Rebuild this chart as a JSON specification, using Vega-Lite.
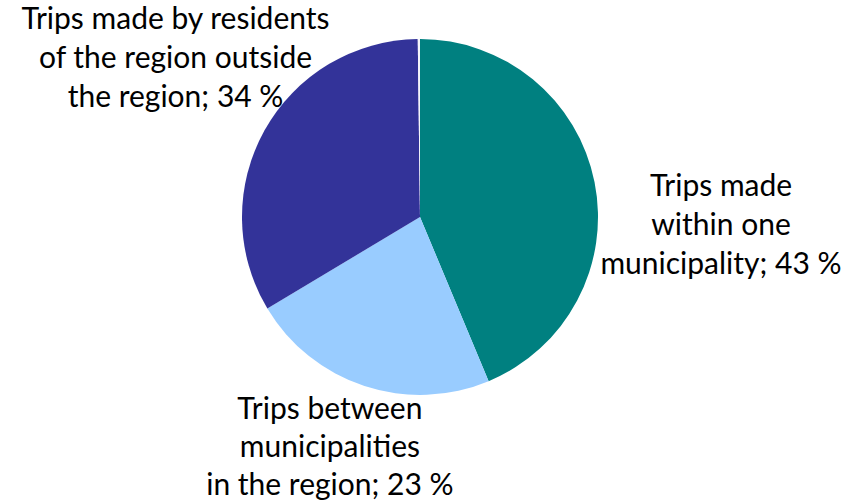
{
  "$schema": "https://vega.github.io/schema/vega-lite/v6.json",
  "width": 840,
  "height": 434,
  "padding": 0,
  "background": "white",
  "config": {"view": {"stroke": null}},
  "data": {
    "values": [
      {"idx": 1, "category": "Trips made within one municipality", "value": 43.7, "label": "Trips made\nwithin one\nmunicipality; 43 %"},
      {"idx": 2, "category": "Trips between municipalities in the region", "value": 22.7, "label": "Trips between\nmunicipalities\nin the region; 23 %"},
      {"idx": 3, "category": "Trips made by residents of the region outside the region", "value": 33.4, "label": "Trips made by residents\nof the region outside\nthe region; 34 %"},
      {"idx": 4, "category": "Other", "value": 0.2, "label": ""}
    ]
  },
  "transform": [
    {"stack": "value", "groupby": [], "sort": [{"field": "idx", "order": "ascending"}], "as": ["v0", "v1"]}
  ],
  "layer": [
    {
      "mark": {"type": "arc", "outerRadius": 178},
      "encoding": {
        "theta": {"field": "v0", "type": "quantitative", "scale": {"domain": [0, 100]}},
        "theta2": {"field": "v1"},
        "color": {
          "field": "category",
          "type": "nominal",
          "legend": null,
          "scale": {
            "domain": ["Trips made within one municipality", "Trips between municipalities in the region", "Trips made by residents of the region outside the region", "Other"],
            "range": ["#008080", "#99CCFF", "#333399", "#F4F4FA"]
          }
        }
      }
    },
    {
      "transform": [{"filter": "datum.idx == 1"}],
      "mark": {"type": "text", "radius": 30, "dx": 301, "dy": 0, "font": "Lato", "fontSize": 30, "lineHeight": 39, "lineBreak": "\n", "align": "center", "baseline": "middle", "color": "black"},
      "encoding": {
        "theta": {"field": "v0", "type": "quantitative", "scale": {"domain": [0, 100]}},
        "text": {"field": "label"}
      }
    },
    {
      "transform": [{"filter": "datum.idx == 2"}],
      "mark": {"type": "text", "radius": 145, "dx": -146, "dy": 59, "font": "Lato", "fontSize": 30, "lineHeight": 38, "lineBreak": "\n", "align": "center", "baseline": "middle", "color": "black"},
      "encoding": {
        "theta": {"field": "v0", "type": "quantitative", "scale": {"domain": [0, 100]}},
        "text": {"field": "label"}
      }
    },
    {
      "transform": [{"filter": "datum.idx == 3"}],
      "mark": {"type": "text", "radius": 197, "dx": -242, "dy": 0, "font": "Lato", "fontSize": 30, "lineHeight": 39, "lineBreak": "\n", "align": "center", "baseline": "middle", "color": "black"},
      "encoding": {
        "theta": {"field": "v1", "type": "quantitative", "scale": {"domain": [0, 100]}},
        "text": {"field": "label"}
      }
    }
  ]
}
